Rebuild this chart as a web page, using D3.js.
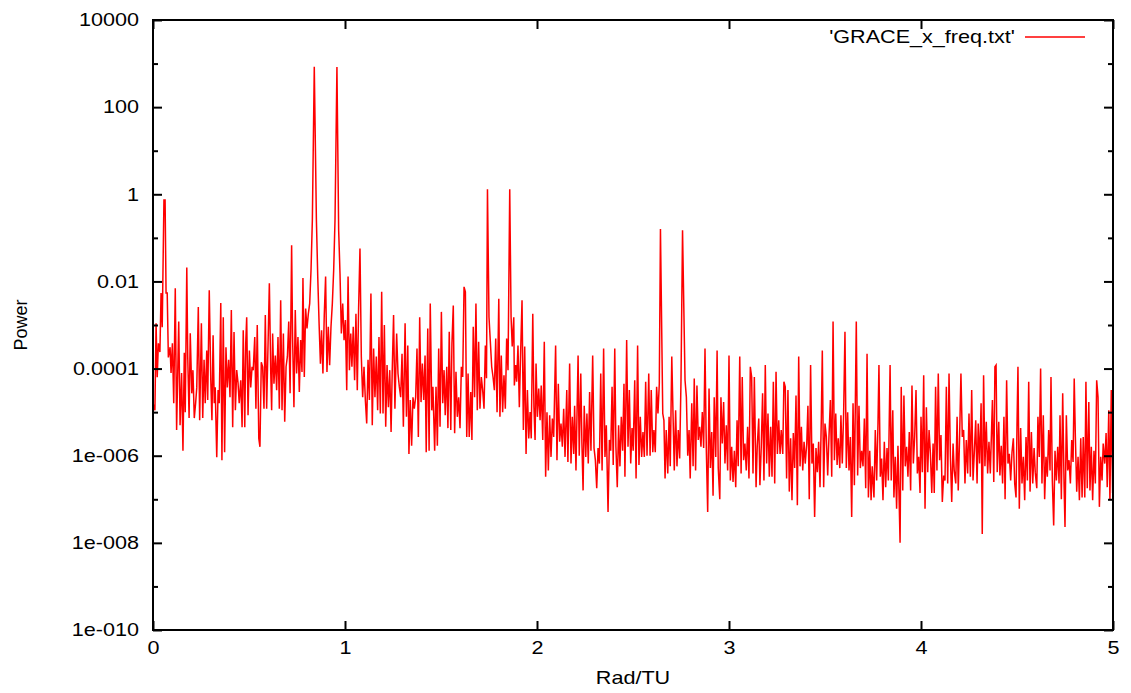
<!DOCTYPE html>
<html>
<head>
<meta charset="utf-8">
<script src="https://cdn.jsdelivr.net/npm/d3@7"></script>
<style>
  body { margin: 0; background: #fff; }
  text { font-family: "Liberation Sans", Arial, sans-serif; fill: #000; }
</style>
</head>
<body>
<script>
const width = 1131;
const height = 693;
const margin = {top: 20, right: 18, bottom: 63, left: 153};
const stretch = 1.2; // the original text is drawn a bit wide

// axis ticks
const yTickValues = [1e4, 1e2, 1, 1e-2, 1e-4, 1e-6, 1e-8, 1e-10];
const yTickLabels = ["10000", "100", "1", "0.01", "0.0001", "1e-006", "1e-008", "1e-010"];
const yMinorTicks = [1e3, 10, 0.1, 1e-3, 1e-5, 1e-7, 1e-9];
const xTickValues = [0, 1, 2, 3, 4, 5];
const seriesName = "'GRACE_x_freq.txt'";

// spectrum, in pieces (Rad/TU, power)
const freqA = [0.004,0.010,0.016,0.022,0.028,0.036,0.042,0.048,0.057,0.063,
  0.068,0.074,0.080,0.089,0.094,0.101,0.108,0.116,0.123,0.134,
  0.141,0.149,0.156,0.163,0.168,0.176,0.181,0.188,0.194,0.202,
  0.208,0.215,0.222,0.228,0.236,0.243,0.252,0.259,0.266,0.272,
  0.280,0.285,0.293,0.301,0.307,0.313,0.319,0.324,0.332,0.339,
  0.345,0.353,0.359,0.366,0.373,0.380,0.387,0.394,0.401,0.408,
  0.415,0.422,0.429,0.436,0.443,0.449,0.457,0.464,0.470,0.478,
  0.483,0.488,0.495,0.502,0.509,0.516,0.522,0.530,0.536,0.543,
  0.551,0.557,0.564,0.571,0.578,0.585,0.592,0.606,0.613];
const powerA = [1.5e-5,1.1e-5,1.1e-3,6.3e-5,3.8e-4,2.4e-4,5.4e-3,8.9e-4,0.74,0.74,
  5.4e-3,5.4e-3,1.8e-4,3.1e-4,7.9e-5,3.8e-4,1.6e-5,7e-3,3.9e-6,1.2e-3,
  5e-6,7.9e-5,1.3e-6,2.3e-4,1e-5,2.1e-2,1.8e-4,7.3e-6,6.5e-4,2.7e-5,
  9.2e-5,7.3e-6,1.6e-5,3.7e-5,2.6e-3,6.5e-6,1.1e-3,7.3e-6,1.6e-4,1.6e-5,
  2.6e-4,1.9e-5,6.3e-3,5.4e-5,6.5e-6,5.8e-4,1.6e-5,3.7e-5,9.2e-7,3.2e-5,
  1.6e-5,3.2e-3,7.9e-7,1.5e-3,1.2e-6,3.1e-4,3.7e-5,1.6e-4,2.2e-5,2.2e-3,
  4.5e-6,6.9e-4,1.1e-5,9.2e-5,4.6e-5,1.6e-5,5.4e-5,4.5e-6,7.6e-4,4.5e-6,
  3.8e-4,1.5e-3,8.5e-6,2.6e-4,3.7e-5,1.1e-4,9.2e-5,5.3e-4,1.2e-5,1e-3,
  2.5e-6,1.6e-6,1.4e-4,1.1e-4,1.2e-5,1.7e-3,1.2e-5,9.1e-3,9.2e-5];

const freqB = [0.618,0.623,0.630,0.637,0.644,0.651,0.658,0.665,0.672,0.679,
  0.686,0.693,0.700,0.707,0.714,0.722,0.727,0.734,0.741,0.748,
  0.755,0.762,0.769,0.776,0.781,0.788,0.795,0.802,0.809,0.816,
  0.823,0.830,0.840,0.851,0.858,0.865,0.872,0.878,0.885,0.892,
  0.899,0.906,0.913,0.920,0.927,0.934,0.941,0.948,0.958,0.967,
  0.974,0.981,0.988,0.995,1.002,1.009,1.016,1.023,1.030,1.036,
  1.043,1.050,1.057,1.064,1.071,1.078,1.085,1.092,1.099,1.106,
  1.113,1.120,1.127,1.135,1.142,1.149,1.156,1.163,1.170,1.177,
  1.184,1.191,1.198,1.205,1.212,1.219,1.226,1.233,1.240,1.246,
  1.253];
const powerB = [1.1e-5,6.4e-4,4.5e-5,2.0e-4,3.2e-5,5.3e-4,1.2e-5,3.7e-3,1.1e-5,6.4e-4,
  6.0e-6,1.1e-4,1.9e-4,1.2e-3,2.7e-5,6.8e-2,5.3e-4,1.3e-5,2.2e-3,7.7e-5,
  5.3e-4,2.9e-5,4.5e-4,8.4e-5,1.2e-2,6.4e-5,2.4e-3,8.3e-4,1.8e-3,3.1e-3,
  1.8e-2,0.26,850,0.26,1.3e-2,1.1e-3,1.3e-4,7.6e-4,7.7e-5,1.7e-3,
  1.3e-2,8.4e-5,9.1e-4,1.2e-4,9.1e-4,3.1e-3,1.8e-2,0.26,830,0.15,
  1.5e-2,6.4e-4,3.1e-3,4.5e-4,1.3e-3,3.2e-5,1.3e-2,9.2e-5,6.4e-4,1.1e-4,
  9.1e-4,5.4e-5,1.8e-3,3.2e-5,2.6e-3,5.7e-2,1.9e-4,2.2e-5,1.1e-4,1.9e-5,
  5.5e-6,1.6e-4,1.9e-5,5.3e-3,5.0e-6,2.9e-4,2.2e-5,1.9e-4,1.1e-5,5.3e-4,
  9.3e-6,5.8e-3,9.3e-6,1.0e-3,4.6e-6,1.2e-4,1.3e-5,9.2e-5,3.5e-6,9.2e-5,
  1.7e-3];

const freqC = [1.260,1.269,1.276,1.283,1.290,1.297,1.304,1.313,1.320,1.327,
  1.333,1.340,1.347,1.354,1.361,1.368,1.375,1.382,1.389,1.396,
  1.403,1.410,1.417,1.423,1.431,1.438,1.444,1.452,1.458,1.467,
  1.474,1.481,1.488,1.495,1.502,1.509,1.516,1.522,1.530,1.536,
  1.543,1.551,1.557,1.564,1.571,1.578,1.585,1.592,1.599,1.606,
  1.613,1.620,1.627,1.634,1.641,1.647,1.655,1.661,1.668,1.675,
  1.682,1.689,1.696,1.703,1.710,1.717,1.724,1.731,1.737,1.742,
  1.750,1.757,1.764,1.771,1.778,1.785,1.792,1.801,1.807,1.814,
  1.821,1.828,1.835,1.842,1.849,1.858,1.865,1.871,1.879];
const powerC = [1.2e-5,6.4e-4,7.7e-5,3.8e-5,2.2e-5,2.2e-4,4.6e-6,1.1e-3,7.8e-6,3.4e-4,
  1.1e-6,1.9e-5,1.7e-6,2.2e-5,1.2e-5,2.2e-5,2.9e-4,2.7e-6,1.5e-3,1.7e-5,
  1.3e-4,1.9e-5,2.0e-4,1.2e-6,8.3e-4,1.3e-6,3.1e-3,1.1e-5,3.8e-5,1.3e-6,
  3.8e-5,1.7e-6,2.9e-4,4.6e-6,2.0e-3,1.6e-5,9.2e-5,8.5e-6,1.1e-4,4.3e-6,
  7e-4,3.9e-6,3.8e-4,2.8e-3,3.3e-6,8.4e-5,7.8e-6,2.2e-5,4.3e-6,1.1e-4,
  6.4e-5,7.5e-3,5.8e-3,2.7e-6,7.7e-5,2.7e-6,2.9e-5,2.3e-6,9.1e-4,2.2e-5,
  3.1e-3,1.1e-5,4.1e-4,1.2e-5,6.4e-5,3.2e-5,1.2e-5,3.4e-4,6e-5,1.3,
  1.5e-3,4.1e-4,1.1e-4,6.4e-5,3.2e-5,4.9e-4,1.0e-5,4.0e-3,7.8e-6,2.0e-4,
  1.0e-5,7.0e-5,1.2e-5,4.9e-4,9.2e-5,1.3,1.5e-3,3.2e-4,1.5e-3];

const freqD = [1.882,1.889,1.894,1.901,1.908,1.915,1.922,1.929,1.936,1.943,
  1.950,1.957,1.964,1.970,1.978,1.984,1.990,1.995,2.002,2.009,
  2.016,2.022,2.030,2.038,2.045,2.052,2.059,2.066,2.073,2.080,
  2.087,2.097,2.104,2.111,2.118,2.125,2.132,2.139,2.146,2.155,
  2.161,2.170,2.177,2.184,2.191,2.196,2.203,2.214,2.220,2.228,
  2.234,2.240,2.246,2.254,2.260,2.267,2.274,2.281,2.290,2.297,
  2.304,2.311,2.318,2.325,2.332,2.339,2.347,2.354,2.361,2.370,
  2.377,2.384,2.391,2.397,2.405,2.411,2.418,2.425,2.432,2.439,
  2.446,2.453,2.458,2.467,2.474,2.481,2.488,2.495,2.501,2.509];
const powerD = [4.1e-5,1.2e-4,5e-5,3.4e-4,1.3e-5,2.6e-4,3.7e-3,3.9e-6,3.2e-4,1.1e-6,
  3.2e-5,2.5e-6,1.0e-5,2.5e-6,1.8e-3,1.3e-5,2.3e-6,1.3e-4,7.8e-6,3.5e-5,
  6.5e-6,4.1e-5,2.3e-6,4.1e-4,3.3e-7,1.0e-5,4.6e-7,8.5e-6,9.4e-7,7.1e-6,
  2.7e-6,3.4e-4,7.9e-7,4.5e-5,2.1e-6,5.5e-6,1.6e-6,1.2e-5,9.4e-7,3.2e-5,
  7.2e-7,1.3e-4,6.6e-7,7.8e-6,1.1e-6,1.4e-5,4.6e-7,2.0e-4,1.0e-6,7.7e-5,
  1.9e-6,1.6e-7,1.4e-5,9.4e-7,9.3e-6,6.6e-7,2.9e-5,1.3e-6,2.0e-4,1.5e-6,
  7.9e-7,1.8e-7,1.5e-6,6.6e-7,7.7e-5,4.6e-7,2.9e-4,9.4e-7,5.0e-6,5.1e-8,
  2.3e-6,1.3e-6,3.8e-5,6.1e-7,2.9e-4,1.6e-6,1.9e-7,5.0e-6,5.7e-7,7.8e-6,
  1.3e-6,4.5e-5,3.3e-7,4.5e-4,1.6e-6,3.2e-5,6.6e-7,4.3e-6,1.3e-6,5.4e-5];

const freqE = [2.516,2.524,2.531,2.538,2.545,2.552,2.559,2.566,2.573,2.582,
  2.589,2.595,2.603,2.609,2.616,2.623,2.630,2.637,2.643,2.655,
  2.661,2.667,2.673,2.681,2.688,2.694,2.702,2.708,2.715,2.722,
  2.729,2.736,2.743,2.750,2.758,2.771,2.778,2.785,2.792,2.798,
  2.806,2.813,2.819,2.826,2.833,2.840,2.847,2.854,2.861,2.868,
  2.875,2.882,2.889,2.896,2.903,2.910,2.917,2.923,2.931,2.938,
  2.944,2.952,2.958,2.965,2.972,2.979,2.986,2.993,3.000,3.007,
  3.014,3.021,3.028,3.035,3.042,3.048,3.056,3.063,3.069,3.076,
  3.083,3.090,3.097,3.104,3.111,3.118,3.125,3.132];
const powerE = [3.0e-7,3.4e-4,6.1e-7,7.8e-6,9.4e-7,3.5e-6,9.4e-7,5e-5,1.0e-6,7.7e-5,
  1.0e-6,3.2e-5,1.2e-6,3.9e-6,1.2e-6,3.8e-5,9.3e-6,4.5e-5,0.16,9.3e-6,
  6.5e-6,3.0e-7,3.9e-6,3.9e-7,7.8e-6,5.7e-7,1.9e-4,1.1e-5,4.6e-7,1.1e-5,
  5.7e-7,3.9e-6,8.6e-7,5.4e-5,0.15,5.4e-5,2.2e-5,1.0e-6,3.9e-6,3.0e-7,
  1.6e-5,5.7e-7,5.9e-5,4.6e-7,4.1e-5,2.3e-6,4.6e-6,1.6e-6,1.0e-5,1.5e-6,
  2.9e-4,1.3e-6,5.1e-8,3.5e-5,5.2e-7,3.5e-6,1.2e-7,2.2e-5,9.4e-7,2.6e-4,
  5.2e-7,1.0e-7,2.2e-5,1.9e-6,1.7e-5,6.6e-7,5.0e-6,4.6e-7,2.0e-4,2.7e-7,
  1.6e-6,2.5e-7,1.3e-6,1.9e-7,6.5e-6,5.7e-7,1.9e-4,3.9e-7,6.4e-5,7.9e-7,
  1.9e-6,4.6e-7,4.6e-6,3.0e-7,1.1e-4,6.4e-5,3.9e-7,6.4e-5];

const freqF = [3.141,3.147,3.155,3.161,3.168,3.175,3.182,3.189,3.196,3.203,
  3.210,3.217,3.224,3.231,3.238,3.245,3.252,3.259,3.266,3.272,
  3.280,3.286,3.293,3.300,3.307,3.314,3.321,3.328,3.335,3.342,
  3.349,3.356,3.363,3.370,3.377,3.384,3.391,3.397,3.405,3.411,
  3.418,3.425,3.432,3.439,3.446,3.453,3.460,3.467,3.474,3.481,
  3.486,3.493,3.500,3.507,3.514,3.521,3.528,3.535,3.542,3.549,
  3.556,3.563,3.569,3.577,3.583,3.590,3.597,3.604,3.611,3.618,
  3.625,3.632,3.639,3.646,3.653,3.663,3.670,3.677,3.684,3.691,
  3.698,3.705,3.712,3.719,3.726,3.733,3.740,3.746];
const powerF = [1.9e-7,1.6e-6,7.1e-6,2.1e-7,1.6e-6,2.7e-5,2.7e-7,1.2e-4,6.6e-7,9.3e-6,
  3.3e-7,4.6e-6,3.3e-7,5e-5,2.3e-7,8.4e-5,1.1e-6,6.5e-6,1.1e-6,3.9e-6,
  1.1e-6,5e-5,3.8e-5,3.0e-7,3.2e-5,1.5e-7,2.5e-6,9.5e-8,3.3e-6,5.2e-7,
  2.4e-5,7.3e-8,1.9e-4,5.7e-7,4.6e-6,4.6e-7,2.1e-6,6.6e-7,1.9e-6,1.4e-5,
  1.0e-7,1.2e-4,6.6e-7,1.9e-6,3.9e-8,1.5e-6,4.2e-7,2.1e-6,1.9e-7,7.8e-6,
  2.6e-4,1.9e-7,5.5e-6,2.7e-6,3.5e-7,3.0e-6,1.9e-5,3.3e-7,1.2e-3,7.9e-7,
  9.3e-6,6.1e-7,2.5e-6,5.2e-7,8.5e-6,6.6e-7,9.3e-6,7e-4,5.2e-7,1.0e-5,
  4.6e-7,2.7e-6,3.9e-8,1.6e-5,2.1e-7,1.2e-3,3.5e-7,1.4e-5,5.2e-7,1.3e-6,
  5.7e-7,7.1e-6,1.8e-7,2.2e-4,1.1e-7,1.3e-6,9.5e-8,5.7e-7];

const freqG = [3.755,3.762,3.769,3.776,3.781,3.788,3.795,3.802,3.809,3.816,
  3.823,3.830,3.839,3.845,3.853,3.859,3.866,3.873,3.880,3.891,
  3.897,3.905,3.911,3.918,3.925,3.932,3.939,3.946,3.953,3.960,
  3.967,3.974,3.981,3.988,3.995,4.000,4.007,4.014,4.021,4.028,
  4.035,4.042,4.049,4.056,4.063,4.069,4.076,4.083,4.090,4.097,
  4.104,4.111,4.118,4.125,4.132,4.139,4.146,4.153,4.160,4.167,
  4.173,4.181,4.188,4.194,4.201,4.208,4.215,4.222,4.229,4.236,
  4.243,4.250,4.257,4.264,4.271,4.278,4.285,4.292,4.298,4.305,
  4.313,4.319,4.326,4.333,4.340,4.347,4.354,4.361];
const powerG = [1.1e-7,3.9e-6,2.7e-7,5.5e-6,1.2e-4,3.3e-7,8.6e-7,9.5e-8,2.1e-6,1.9e-7,
  1.5e-6,2.7e-7,1.2e-4,2.7e-7,1.1e-5,1.1e-7,9.4e-7,6.1e-8,1.7e-6,1.0e-8,
  3.8e-5,1.6e-7,2.4e-5,5.7e-7,1.6e-6,3.3e-7,3.5e-6,1.6e-7,4.1e-5,6.6e-7,
  2.7e-6,3.2e-5,3.9e-7,9.4e-7,1.4e-7,7.8e-6,4.2e-7,7e-5,6.1e-8,1.3e-5,
  4.2e-7,3.9e-6,1.1e-6,1.4e-7,1.9e-6,1.4e-7,3.8e-5,4.6e-7,7.7e-5,7.9e-7,
  3.0e-6,8.7e-8,3.5e-7,2.7e-7,3.8e-5,2.3e-7,7.7e-5,1.0e-6,8.7e-8,1.9e-6,
  4.6e-7,2.3e-7,7.8e-6,1.6e-7,2.7e-6,7.7e-5,2.7e-6,3.9e-6,2.3e-7,2.3e-6,
  3.9e-7,9.3e-6,3.3e-7,3.2e-5,2.7e-7,1.3e-6,6.5e-6,2.3e-7,5.5e-6,6.6e-7,
  1.6e-5,1.6e-8,7e-5,5.7e-7,6.0e-6,3.9e-7,2.1e-6,3.9e-7];

const freqH = [4.372,4.379,4.385,4.391,4.397,4.405,4.411,4.418,4.425,4.432,
  4.438,4.446,4.453,4.460,4.467,4.474,4.481,4.488,4.495,4.500,
  4.505,4.512,4.519,4.526,4.533,4.540,4.547,4.554,4.561,4.568,
  4.575,4.582,4.589,4.595,4.603,4.609,4.616,4.623,4.630,4.637,
  4.644,4.651,4.658,4.665,4.672,4.677,4.684,4.691,4.698,4.705,
  4.712,4.719,4.724,4.731,4.738,4.745,4.750,4.757,4.764,4.771,
  4.778,4.785,4.792,4.798,4.804,4.811,4.818,4.825,4.832,4.839,
  4.845,4.853,4.859,4.866,4.874,4.880,4.887,4.894,4.901,4.908,
  4.915,4.922,4.929,4.936,4.943,4.949,4.957,4.964,4.970,4.978,
  4.984,4.991,4.998];
const powerH = [1.9e-5,2.5e-7,1.1e-4,1.2e-4,4.2e-7,6.0e-6,3.5e-7,1.7e-6,2.3e-7,7.8e-6,
  1.0e-7,5.4e-5,6.6e-7,1.1e-6,2.7e-7,1.2e-6,2.5e-6,2.3e-7,1.1e-7,5.0e-6,
  1.1e-4,6.1e-8,4.3e-6,2.3e-7,9.4e-7,9.5e-8,2.7e-6,2.7e-7,5e-5,1.5e-7,
  3.5e-6,2.3e-7,1.5e-6,4.2e-7,1.8e-7,7.8e-6,9.4e-7,1.0e-4,2.3e-7,8.5e-6,
  1.0e-7,9.4e-7,3.3e-7,3.9e-6,4.6e-7,6.4e-5,2.7e-7,2.5e-8,1.3e-6,2.7e-7,
  1.6e-6,2.3e-7,8.5e-6,1.0e-7,2.7e-5,2.3e-7,2.3e-8,8.5e-6,4.6e-7,7.9e-7,
  2.3e-7,2.3e-6,7.2e-7,5.9e-5,2.7e-6,1.5e-7,9.4e-7,9.5e-8,2.5e-6,1.1e-7,
  2.7e-6,1.1e-7,5e-5,1.8e-7,1.7e-5,1.6e-7,1.6e-6,9.5e-8,1.3e-6,2.3e-7,
  5.4e-5,2.2e-5,6.7e-8,9.4e-7,2.7e-7,1.9e-6,6.6e-7,3.3e-6,1.9e-7,1.1e-5,
  9.5e-8,3.2e-5,1.4e-7];

const freq = [...freqA, ...freqB, ...freqC, ...freqD, ...freqE, ...freqF, ...freqG, ...freqH];
const power = [...powerA, ...powerB, ...powerC, ...powerD, ...powerE, ...powerF, ...powerG, ...powerH];
const data = freq.map((f, i) => ({f: f, p: power[i]}));

const xScale = d3.scaleLinear()
                 .domain([0, 5])
                 .range([margin.left, width - margin.right]);
const yScale = d3.scaleLog()
                 .domain([1e-10, 1e4])
                 .range([height - margin.bottom, margin.top]);

const svg = d3.select("body").append("svg")
              .attr("width", width)
              .attr("height", height);

svg.append("rect")
   .attr("width", width).attr("height", height)
   .attr("fill", "#fff");

// the curve, clipped to the frame
svg.append("clipPath").attr("id", "plot")
   .append("rect")
   .attr("x", margin.left).attr("y", margin.top)
   .attr("width", width - margin.left - margin.right)
   .attr("height", height - margin.top - margin.bottom);

const line = d3.line()
               .x(d => xScale(d.f))
               .y(d => yScale(d.p));

svg.append("path")
   .datum(data)
   .attr("clip-path", "url(#plot)")
   .attr("fill", "none")
   .attr("stroke", "#ff0000")
   .attr("stroke-width", 1.5)
   .attr("d", line);

// axes, ticks point inward like gnuplot
function styleAxis(g) {
  g.select(".domain").remove();
  g.selectAll(".tick line").attr("stroke", "#000").attr("stroke-width", 2);
  g.selectAll(".tick text")
   .attr("font-family", "Liberation Sans, Arial, sans-serif")
   .attr("font-size", 18)
   .attr("fill", "#000");
}

const yAxis = svg.append("g")
   .attr("transform", "translate(" + margin.left + ",0)")
   .call(d3.axisLeft(yScale).tickValues(yTickValues)
           .tickFormat((d, i) => yTickLabels[i]).tickSize(-9).tickPadding(14))
   .call(styleAxis);
yAxis.selectAll(".tick text")
     .attr("x", -14 / stretch)
     .attr("transform", "scale(" + stretch + ",1)");

svg.append("g")
   .attr("transform", "translate(" + margin.left + ",0)")
   .call(d3.axisLeft(yScale).tickValues(yMinorTicks).tickFormat("").tickSize(-5))
   .call(styleAxis);
svg.append("g")
   .attr("transform", "translate(" + (width - margin.right) + ",0)")
   .call(d3.axisRight(yScale).tickValues(yTickValues).tickFormat("").tickSize(-9))
   .call(styleAxis);
svg.append("g")
   .attr("transform", "translate(" + (width - margin.right) + ",0)")
   .call(d3.axisRight(yScale).tickValues(yMinorTicks).tickFormat("").tickSize(-5))
   .call(styleAxis);

const xAxis = svg.append("g")
   .attr("transform", "translate(0," + (height - margin.bottom) + ")")
   .call(d3.axisBottom(xScale).tickValues(xTickValues).tickFormat(d3.format("d"))
           .tickSize(-9).tickPadding(11))
   .call(styleAxis);
xAxis.selectAll(".tick text")
     .attr("transform", "scale(" + stretch + ",1)");

svg.append("g")
   .attr("transform", "translate(0," + margin.top + ")")
   .call(d3.axisTop(xScale).tickValues(xTickValues).tickFormat("").tickSize(-9))
   .call(styleAxis);

// frame
svg.append("rect")
   .attr("x", margin.left).attr("y", margin.top)
   .attr("width", width - margin.left - margin.right)
   .attr("height", height - margin.top - margin.bottom)
   .attr("fill", "none")
   .attr("stroke", "#000")
   .attr("stroke-width", 2);

// axis titles
svg.append("text")
   .attr("transform", "translate(" + ((margin.left + width - margin.right) / 2) + ",678) scale(" + stretch + ",1)")
   .attr("dy", "0.35em")
   .attr("text-anchor", "middle")
   .attr("font-size", 18)
   .text("Rad/TU");

svg.append("text")
   .attr("transform", "translate(27," + ((margin.top + height - margin.bottom) / 2) + ") rotate(-90)")
   .attr("text-anchor", "middle")
   .attr("font-size", 18)
   .text("Power");

// key
svg.append("text")
   .attr("transform", "translate(1015,37) scale(" + stretch + ",1)")
   .attr("dy", "0.35em")
   .attr("text-anchor", "end")
   .attr("font-size", 18)
   .text(seriesName);
svg.append("line")
   .attr("x1", 1025).attr("x2", 1085)
   .attr("y1", 37).attr("y2", 37)
   .attr("stroke", "#ff0000")
   .attr("stroke-width", 1.5);
</script>
</body>
</html>
